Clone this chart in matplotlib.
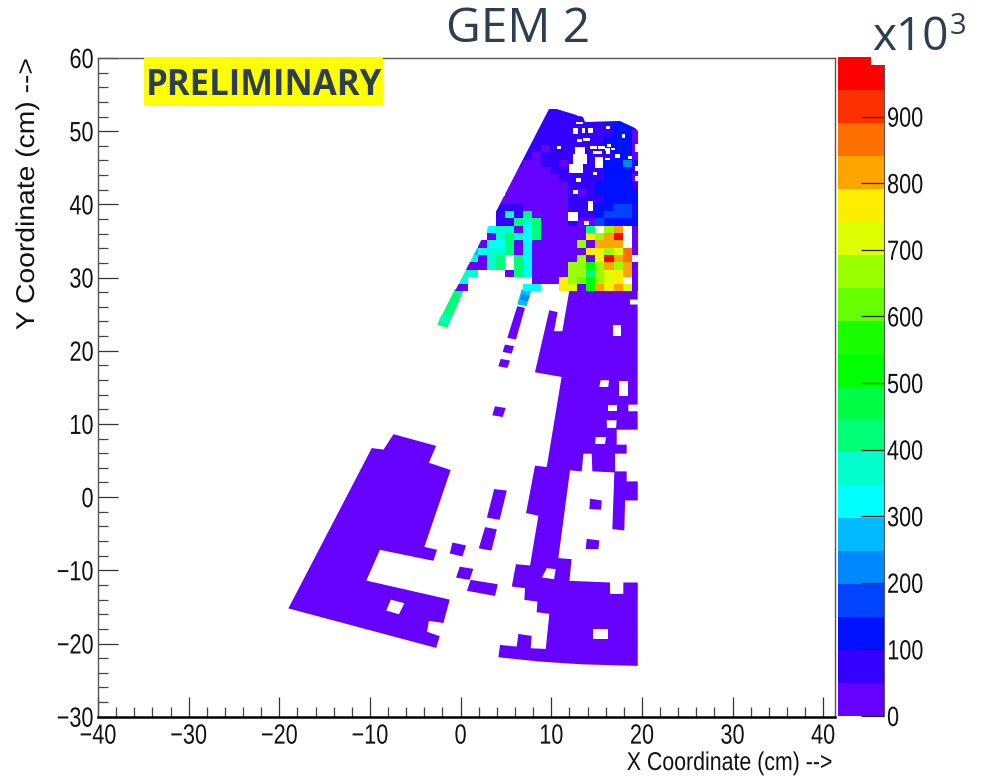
import numpy as np
import matplotlib
matplotlib.use("Agg")
import matplotlib.pyplot as plt
from matplotlib.collections import PolyCollection
from matplotlib.colors import ListedColormap, BoundaryNorm
from matplotlib.patches import Polygon, Rectangle
from matplotlib.patheffects import AbstractPathEffect
from matplotlib.ticker import MultipleLocator
from matplotlib.transforms import Affine2D

plt.rcParams["font.family"] = ["Liberation Sans"]

z_max = 989.5
band_edges = np.linspace(0, z_max, 21)
band_colors = ["#6600ff", "#3300ff", "#0011ff", "#0044ff", "#0088ff", "#00bbff", "#00ffff",
               "#00ffcc", "#00ff77", "#00ff44", "#00ff00", "#1aff00", "#66ff00", "#99ff00",
               "#ddff00", "#ffee00", "#ffa500", "#ff7000", "#ff3000", "#ff0000"]
band_codes = "abcdefghijklmnopqrst"

# upper sector, 1 cm bins, top row first, letter = colour band, dot = no hits
sector_rows = [
    "..........bbbb.......",
    ".........bbbbbbbbccbb",
    ".........bbbbbbbbbccb",
    ".........bbbbbbbbbcca",
    "........bbbbbbbbbccca",
    "........bbabbbbbbccca",
    "........babbbbbbbbcca",
    ".......baabbabbbcccec",
    ".......aaaabbbbbbcccb",
    "......aaaaaabbbbbccca",
    "......aaaaaaabbbccccb",
    "......aaaaaaababccccc",
    ".....aaaaaaaabbbbcccc",
    ".....bbbaaaaabbbccddc",
    ".....bhbiaaaabbbcdddc",
    ".....bbihiaaabaadcccc",
    "....ghhagiaaaaai.nq.a",
    "....ahihgiaaaaapnqt.a",
    "...aggiagaaaaanaqqq.a",
    "..fghhiagaaaaaappnora",
    "..hahi.igaaaaanaotqr.",
    ".aaahi.igaaaannknqnqa",
    ".hh...aigaaaanninopqa",
    ".h.......aaapnmknop.a",
    "aa......gg..poakqpqoa",
]
sector_x = np.arange(-1.13, 20.0, 1.0)
sector_y = np.arange(28.1, 53.2, 1.0)
sector_outline = [(9.9, 53.3), (13.5, 51.9), (13.7, 51.3), (17.6, 51.4), (19.25, 50.4),
                  (19.53, 50.0), (19.53, 28.1), (-0.6, 28.1)]
# dead spots inside the sector: x0, x1, y0, y1 in cm
sector_gaps = [
    (12.73, 13.47, 50.94, 51.31), (12.44, 12.99, 49.58, 50.49), (13.36, 13.72, 49.80, 50.40),
    (14.09, 14.64, 49.80, 50.40), (16.04, 16.48, 50.26, 50.72), (13.54, 14.28, 48.66, 49.12),
    (12.88, 13.36, 48.53, 48.89), (17.77, 18.14, 49.12, 49.58), (10.6, 11.04, 47.62, 47.98),
    (14.28, 15.01, 47.52, 47.98), (15.19, 15.93, 47.52, 47.98), (16.11, 16.56, 47.84, 48.21),
    (14.64, 15.56, 46.84, 47.3), (15.93, 16.48, 47.3, 47.75), (16.56, 17.03, 47.39, 47.75),
    (16.04, 16.48, 46.84, 47.3), (15.93, 16.48, 46.02, 46.38), (17.03, 17.59, 46.38, 46.84),
    (18.5, 18.95, 46.16, 46.61), (12.62, 13.72, 45.7, 47.84), (12.44, 13.91, 45.47, 46.84),
    (11.96, 13.54, 44.33, 45.56), (14.83, 15.75, 45.02, 46.48), (14.64, 15.01, 44.01, 44.42),
    (12.73, 13.25, 43.1, 43.65), (12.44, 12.92, 41.37, 41.92), (14.09, 14.64, 39.09, 40.46),
    (11.85, 12.95, 37.7, 38.9), (13.6, 14.2, 37.2, 37.7), (19.24, 19.6, 47.2, 48.21),
    (19.24, 19.6, 44.56, 45.24), (19.24, 19.6, 43.19, 43.88),
]

# lower part of the detector, outlines in cm with their counts
body = [(11.99, 28.2), (19.53, 28.2), (19.53, 27.0), (18.68, 27.0), (18.68, 26.32), (19.53, 26.32),
        (19.53, 12.64), (18.5, 12.64), (18.5, 11.73), (19.53, 11.73), (19.53, 9.22), (17.22, 9.22),
        (17.22, 7.17), (18.32, 7.17), (18.32, 5.94), (17.04, 5.94), (17.04, 3.52), (18.32, 3.52),
        (18.32, 2.15), (19.54, 2.15), (19.54, -0.45), (18.14, -0.45), (18.06, -4.55), (16.74, -4.37),
        (16.96, 3.38), (14.53, 3.52), (14.46, 5.94), (13.54, 5.94), (13.36, 3.52), (12.07, 3.66),
        (10.78, -8.34), (12.25, -8.47), (12.0, -11.44), (16.48, -11.66), (16.48, -13.22), (17.95, -13.22),
        (17.95, -11.66), (19.54, -11.66), (19.54, -23.06), (13.36, -22.84), (8.76, -22.47), (4.17, -21.88),
        (4.35, -20.19), (6.19, -20.42), (6.37, -18.69), (7.84, -18.96), (7.73, -20.65), (9.39, -20.74),
        (9.79, -15.95), (8.39, -15.72), (8.47, -14.26), (7.03, -14.04), (7.11, -12.44), (5.64, -12.21),
        (6.11, -9.16), (7.66, -9.34), (8.58, -2.54), (7.22, -2.18), (8.21, 4.3), (9.5, 4.11),
        (11.14, 16.42), (8.2, 17.06), (9.78, 25.54), (10.7, 25.27), (10.3, 22.67), (11.22, 22.67)]
left_block = [(-19.0, -15.2), (-9.8, 6.7), (-8.5, 6.5), (-7.4, 8.6), (-2.7, 7.0), (-3.5, 4.7), (-1.1, 3.7),
              (-4.0, -6.8), (-2.6, -7.2), (-3.0, -8.7), (-8.9, -7.2), (-10.4, -11.4), (-1.2, -14.0),
              (-1.9, -17.2), (-3.5, -16.9), (-3.7, -18.4), (-2.3, -19.0), (-2.7, -20.6)]
islands = [
    [(14.28, -0.22), (15.56, -0.45), (15.49, -1.72), (14.2, -1.63)],
    [(13.91, -5.69), (15.31, -5.92), (15.2, -7.1), (13.8, -7.1)],
    [(3.7, 1.1), (5.1, 0.9), (4.3, -3.1), (2.9, -2.8)],
    [(2.7, -4.1), (4.0, -4.4), (3.4, -7.3), (2.0, -7.0)],
    [(-0.9, -6.2), (0.6, -6.6), (0.2, -8.1), (-1.2, -7.7)],
    [(-0.1, -9.5), (1.4, -9.8), (1.0, -11.3), (-0.5, -11.0)],
    [(1.1, -11.3), (4.1, -11.9), (3.8, -13.5), (0.7, -12.8)],
    [(6.25, 26.09), (7.1, 25.86), (6.11, 21.53), (5.15, 21.76)],
    [(4.89, 20.85), (5.89, 20.62), (5.63, 19.61), (4.64, 19.84)],
    [(4.42, 18.89), (5.45, 18.66), (5.15, 17.65), (4.16, 17.88)],
    [(3.79, 12.41), (4.97, 12.18), (4.64, 10.95), (3.5, 11.18)],
]
strips = [
    [(-2.57, 23.58), (-1.47, 23.12), (0.3, 28.14), (-0.62, 28.46)],
    [(-2.09, 24.95), (-1.1, 24.63), (-1.47, 23.72), (-2.39, 24.17)],
    [(6.73, 28.37), (7.84, 28.46), (7.28, 26.09), (6.25, 26.32)],
    [(6.8, 27.68), (7.65, 27.46), (7.39, 26.77), (6.55, 27.0)],
]
strip_counts = [425, 375, 275, 225]
holes = [
    [(-7.7, -14.0), (-6.2, -14.5), (-6.8, -16.0), (-8.2, -15.5)],
    [(9.5, -9.7), (10.49, -9.84), (10.31, -11.21), (8.98, -10.98)],
    [(14.9, 8.22), (16.04, 8.22), (15.93, 7.26), (14.83, 7.26)],
    [(14.65, -18.05), (16.23, -18.05), (16.23, -19.42), (14.65, -19.42)],
    [(16.84, 23.58), (17.65, 23.58), (17.65, 21.99), (16.84, 21.99)],
    [(15.45, 15.97), (16.37, 15.97), (16.29, 15.06), (15.3, 15.06)],
    [(17.43, 15.83), (18.5, 15.83), (18.5, 13.87), (17.43, 13.87)],
    [(16.29, 12.64), (17.29, 12.64), (17.29, 11.73), (16.29, 11.73)],
    [(16.11, 10.5), (17.21, 10.5), (17.15, 9.45), (16.15, 9.45)],
]
base_count = 25


class Squeeze(AbstractPathEffect):
    # the reference text is a narrow Helvetica, so scale the glyphs along the baseline
    def __init__(self, factor, anchor):
        super().__init__()
        self.factor = factor
        self.anchor = anchor

    def draw_path(self, renderer, gc, tpath, affine, rgbFace=None):
        ext = tpath.get_extents()
        x0 = {"left": ext.x0, "center": (ext.x0 + ext.x1) / 2, "right": ext.x1}[self.anchor]
        local = Affine2D().translate(-x0, 0).scale(self.factor, 1).translate(x0, 0)
        renderer.draw_path(gc, tpath, local + affine, rgbFace)


cmap = ListedColormap(band_colors)
norm = BoundaryNorm(band_edges, cmap.N)

counts = np.full((len(sector_rows), len(sector_rows[0])), np.nan)
for i, row in enumerate(sector_rows):
    for j, c in enumerate(row):
        if c != ".":
            counts[i, j] = band_edges[band_codes.index(c)] + 25
counts = np.ma.masked_invalid(counts[::-1])

fig = plt.figure(figsize=(9.81, 7.78), dpi=100)
ax = fig.add_axes([98 / 981, 1 - 716.7 / 778, 737 / 981, 658.7 / 778])

solid = [body, left_block] + islands
pc = PolyCollection(solid, array=np.full(len(solid), base_count), cmap=cmap, norm=norm, linewidths=0)
ax.add_collection(pc)
ax.add_collection(PolyCollection(holes, facecolors="white", linewidths=0, zorder=1.5))
ax.add_collection(PolyCollection(strips, array=np.array(strip_counts), cmap=cmap, norm=norm,
                                 linewidths=0, zorder=1.7))
mesh = ax.pcolormesh(sector_x, sector_y, counts, cmap=cmap, norm=norm, zorder=2)
mesh.set_clip_path(Polygon(sector_outline, transform=ax.transData))
gap_verts = [[(a, c), (b, c), (b, d), (a, d)] for a, b, c, d in sector_gaps]
ax.add_collection(PolyCollection(gap_verts, facecolors="white", linewidths=0, zorder=2.5))

ax.set_xlim(-40, 41.3)
ax.set_ylim(-30, 60)
ax.xaxis.set_major_locator(MultipleLocator(10))
ax.xaxis.set_minor_locator(MultipleLocator(2))
ax.yaxis.set_major_locator(MultipleLocator(10))
ax.yaxis.set_minor_locator(MultipleLocator(2))
ax.tick_params(which="major", direction="in", length=14.4, width=0.9, color="#333333", labelsize=20,
               labelcolor="#111111")
ax.tick_params(which="minor", direction="in", length=7.2, width=0.9, color="#444444")
ax.tick_params(axis="x", which="major", pad=5)
ax.tick_params(axis="y", which="major", pad=3)
for lab in ax.get_xticklabels():
    lab.set_path_effects([Squeeze(0.78, "center")])
for lab in ax.get_yticklabels():
    lab.set_path_effects([Squeeze(0.78, "right")])
for side in ["left", "top", "right"]:
    ax.spines[side].set_color("#555555")
    ax.spines[side].set_linewidth(1.0)
ax.spines["bottom"].set_color("black")
ax.spines["bottom"].set_linewidth(1.8)

fig.text(833 / 981, 1 - 763 / 778, "X Coordinate (cm) -->", ha="right", va="center", fontsize=18.5, color="#111111",
         path_effects=[Squeeze(0.83, "right")])
fig.text(27 / 981, 1 - 194 / 778, "Y Coordinate (cm) -->", ha="center", va="center", rotation=90,
         fontsize=18.5, color="#111111", path_effects=[Squeeze(1.1, "center")])

ax.add_patch(Rectangle(((144 - 98) / 737, 1 - 47.5 / 658.7), 239 / 737, 48 / 658.7, transform=ax.transAxes,
                       facecolor="#ffff00", edgecolor="none", clip_on=False, zorder=5))
ax.text((264 - 98) / 737, 1 - 28 / 658.7, "PRELIMINARY", transform=ax.transAxes, ha="center", va="center",
        fontsize=25, family="Open Sans", fontweight="bold", color="#2c3e50", zorder=6)

fig.text(518 / 981, 1 - 29 / 778, "GEM 2", ha="center", va="center", fontsize=34.5, family="Open Sans", color="#2c3e50")
fig.text(872 / 981, 1 - 38 / 778, "x10", ha="left", va="center", fontsize=33, family="Open Sans", color="#2c3e50")
fig.text(950 / 981, 1 - 27 / 778, "3", ha="left", va="center", fontsize=21, family="Open Sans", color="#2c3e50")

# colour scale
cax = fig.add_axes([838 / 981, 1 - 716 / 778, 46 / 981, 659 / 778])
cax.pcolormesh([0, 1], band_edges, (band_edges[:-1] + 25).reshape(-1, 1), cmap=cmap, norm=norm)
cax.set_xlim(0, 1)
cax.set_ylim(0, z_max)
cax.set_xticks([])
cax.set_yticks(np.arange(0, 1000, 100))
cax.yaxis.tick_right()
cax.tick_params(axis="y", direction="in", length=16.6, width=0.9, color="#222222", labelsize=20, pad=2,
                labelcolor="#111111")
for lab in cax.get_yticklabels():
    lab.set_path_effects([Squeeze(0.78, "left")])
for side in ["left", "top", "bottom"]:
    cax.spines[side].set_visible(False)
cax.spines["right"].set_color("#555555")
cax.spines["right"].set_bounds(0, 977)
cax.add_patch(Rectangle((0.72, 977 / z_max), 0.3, 12.5 / z_max, transform=cax.transAxes, facecolor="white",
                        edgecolor="none", clip_on=False, zorder=5))

fig.savefig("out.png", dpi=100)
